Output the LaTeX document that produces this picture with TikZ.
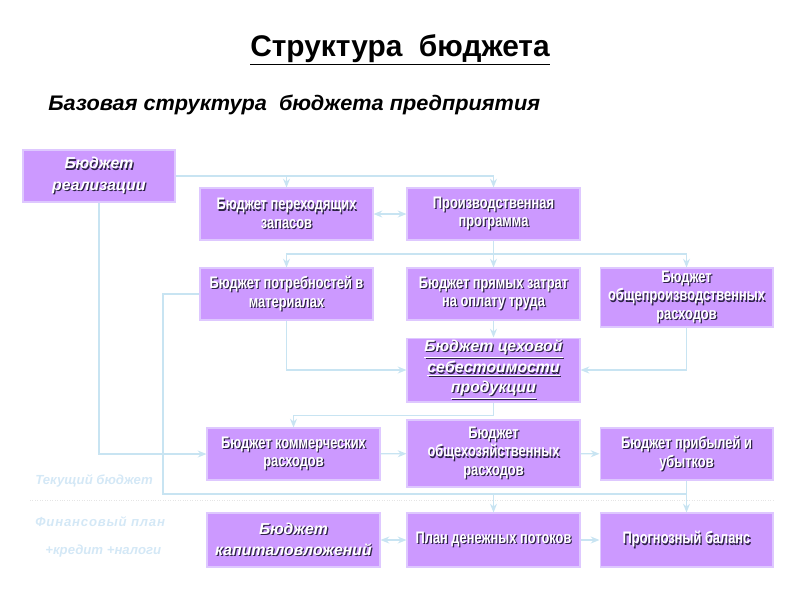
\documentclass[tikz,border=0pt]{standalone}
\usepackage{fontspec}
\setmainfont{Liberation Sans}
\newfontfamily\narrowfont[FakeStretch=0.77]{Liberation Sans}
\newfontfamily\wideitfont[FakeStretch=1.03]{Liberation Sans}
\newfontfamily\spacedfont[LetterSpace=6]{Liberation Sans}
\usetikzlibrary{arrows.meta}
\definecolor{boxviolet}{RGB}{204,153,255}
\definecolor{boxedge}{RGB}{222,200,255}
\definecolor{linkblue}{RGB}{200,228,242}
\definecolor{shadegray}{RGB}{45,35,70}
\definecolor{notecyan}{RGB}{212,232,246}
% white letters with a dark drop shadow
\newcommand{\emb}[1]{\makebox[0pt][l]{\kern0.7pt\raisebox{-0.7pt}{\textcolor{shadegray}{#1}}}\textcolor{white}{#1}}

\tikzset{
  budget/.style={draw=boxedge, fill=boxviolet, line width=0.6pt, minimum width=3.46cm,
    minimum height=1.04cm, align=center, inner sep=1pt,
    font=\narrowfont\bfseries\fontsize{9.5}{10.5}\selectfont},
  budgetit/.style={budget, font=\bfseries\itshape\fontsize{9}{12}\selectfont},
  link/.style={draw=linkblue, line width=0.7pt},
  arr/.style={link, -{Stealth[length=5pt,width=4pt]}},
  darr/.style={link, {Stealth[length=5pt,width=4pt]}-{Stealth[length=5pt,width=4pt]}},
  note/.style={anchor=west, inner sep=0pt, text=notecyan, font=\bfseries\itshape\fontsize{7.5}{9}\selectfont}
}

\begin{document}
\begin{tikzpicture}[x=0.02cm, y=-0.02cm]
    \useasboundingbox (0,0) rectangle (800,600);

    % Titles
    \node[font=\bfseries\fontsize{17}{20}\selectfont] (title) at (400,50) {\underline{Структура\ \ бюджета}};
    \node[anchor=west, inner sep=0pt, font=\wideitfont\bfseries\itshape\fontsize{12}{14}\selectfont] (subtitle) at (48,105) {Базовая структура\ \ бюджета предприятия};

    % Nodes
    \node[budgetit, minimum width=3.04cm] (real) at (99,176) {\emb{Бюджет}\\\emb{реализации}};
    \node[budget] (zap) at (286.5,214) {\emb{Бюджет переходящих}\\\emb{запасов}};
    \node[budget] (prog) at (493.5,214) {\emb{Производственная}\\\emb{программа}};
    \node[budget] (mat) at (286.5,294) {\emb{Бюджет потребностей в}\\\emb{материалах}};
    \node[budget] (trud) at (493.5,294) {\emb{Бюджет прямых затрат}\\\emb{на оплату труда}};
    \node[budget, minimum height=1.18cm] (opr) at (686.5,297.5) {\emb{Бюджет}\\\emb{общепроизводственных}\\\emb{расходов}};
    \node[budgetit, minimum height=1.2cm, font=\bfseries\itshape\fontsize{9}{11}\selectfont] (ceh) at (493.5,370) {\emb{\underline{Бюджет цеховой}}\\\emb{\underline{себестоимости}}\\\emb{\underline{продукции}}};
    \node[budget] (kom) at (293.5,454) {\emb{Бюджет коммерческих}\\\emb{расходов}};
    \node[budget, minimum height=1.34cm] (ohr) at (493.5,453.5) {\emb{Бюджет}\\\emb{общехозяйственных}\\\emb{расходов}};
    \node[budget] (pu) at (686.5,454) {\emb{Бюджет прибылей и}\\\emb{убытков}};
    \node[budgetit, minimum height=1.08cm] (kap) at (293.5,540) {\emb{Бюджет}\\\emb{капиталовложений}};
    \node[budget, minimum height=1.08cm] (ddp) at (493.5,540) {\emb{План денежных потоков}};
    \node[budget, minimum height=1.08cm] (bal) at (686.5,540) {\emb{Прогнозный баланс}};

    % Side notes
    \node[note] (cur) at (35,481) {Текущий бюджет};
    \node[note, font=\spacedfont\bfseries\itshape\fontsize{7.5}{9}\selectfont] (fin) at (35,522) {Финансовый план};
    \node[note] (cred) at (45,551) {+кредит +налоги};
    \draw[black!10, densely dotted] (30,500) -- (775,500);

    % Edges
    \coordinate (row1) at (0,254);
    \coordinate (row2) at (163,494);
    \draw[arr] (real.east) -| (prog.north);
    \draw[arr] (real.east -| zap.north) -- (zap.north);
    \draw[darr] (zap) -- (prog);
    \draw[arr] (prog) -- (trud);
    \draw[arr] (row1 -| prog) -| (mat.north);
    \draw[arr] (row1 -| prog) -| (opr.north);
    \draw[arr] (mat.south) |- (ceh.west);
    \draw[arr] (trud) -- (ceh);
    \draw[arr] (opr.south) |- (ceh.east);
    \draw[arr] (ceh.south) -- ++(0,13) -| (kom.north);
    \draw[arr] (real.south) |- (kom.west);
    \draw[arr] (kom) -- (ohr);
    \draw[arr] (ohr) -- (pu);
    \draw[arr] (mat.west) -| (row2) -| (bal.north);
    \draw[arr] (row2 -| ddp) -- (ddp.north);
    \draw[link] (pu.south) -- (row2 -| pu);
    \draw[darr] (kap) -- (ddp);
    \draw[arr] (ddp) -- (bal);
\end{tikzpicture}
\end{document}
